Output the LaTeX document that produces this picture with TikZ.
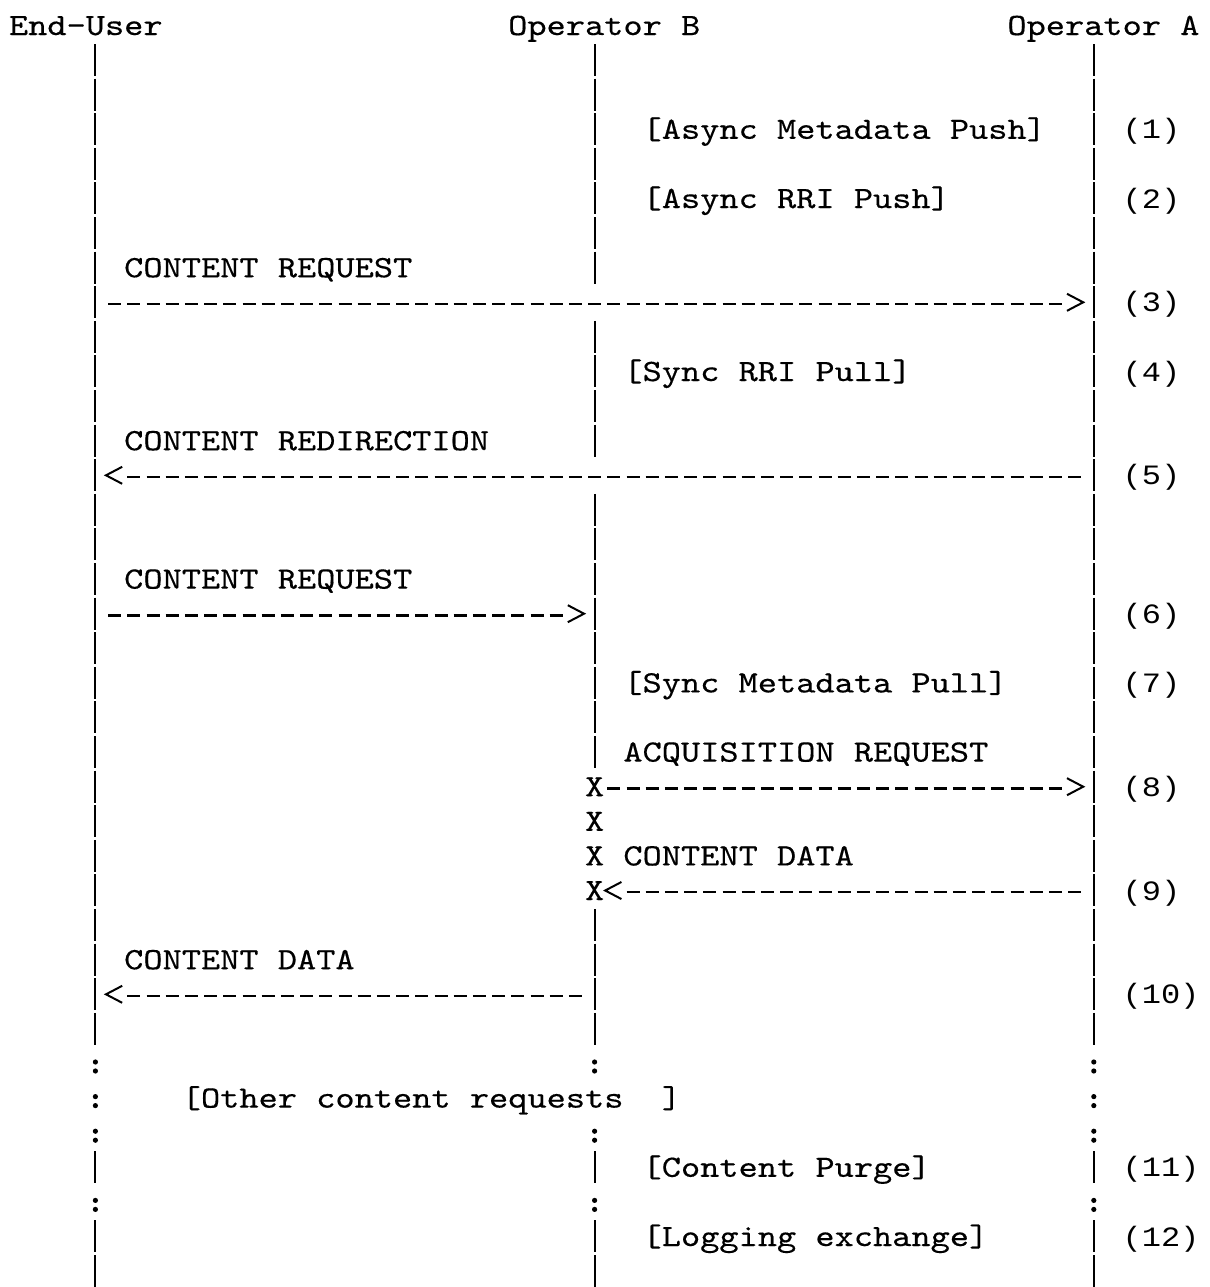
\documentclass[tikz,border=0pt]{standalone}
\usepackage{fontspec}
\newfontfamily\courf{lmmono10-regular.otf}[FakeStretch=1.18,FakeBold=0.4]
\newfontfamily\numf{Liberation Mono}[FakeStretch=1.143]
\tikzset{
  vbar/.style={line width=1pt},
  dashseg/.style={line width=1.3pt},
  chev/.style={line width=1pt, line join=miter},
  lbl/.style={anchor=base west, inner sep=0pt, outer sep=0pt, font=\courf\fontsize{15.5}{15.5}\selectfont},
  numlbl/.style={anchor=base west, inner sep=0pt, outer sep=0pt, font=\numf\fontsize{14}{14}\selectfont},
}
% column c left edge: 9+c*19.2 ; row r baseline: 35+r*34.6 (pixel units, y down)
\newcommand\tx[4]{\node[lbl] (#1) at ({9+#2*19.2},{35+#3*34.6}) {#4};}
\newcommand\nx[4]{\node[numlbl] (#1) at ({9+#2*19.2},{35+#3*34.6}) {#4};}
\newcommand\vb[2]{\draw[vbar] ({9+(#1+0.5)*19.2},{35+#2*34.6-25.6}) -- ++(0,32);}
\newcommand\cln[2]{\fill ({9+(#1+0.5)*19.2},{35+#2*34.6-11}) circle (1.3pt);
  \fill ({9+(#1+0.5)*19.2},{35+#2*34.6-2}) circle (1.3pt);}
\newcommand\dashrow[3]{\foreach \c in {#2,...,#3}{\draw[dashseg] ({9+(\c+0.5)*19.2-6.5},{35+#1*34.6-8}) -- ++(13,0);}}
\newcommand\rarr[2]{\draw[chev] ({9+#1*19.2+2},{35+#2*34.6-18}) -- ({9+(#1+1)*19.2-1},{35+#2*34.6-9.5}) -- ({9+#1*19.2+2},{35+#2*34.6-1});}
\newcommand\larr[2]{\draw[chev] ({9+(#1+1)*19.2-2},{35+#2*34.6-18}) -- ({9+#1*19.2+1},{35+#2*34.6-9.5}) -- ({9+(#1+1)*19.2-2},{35+#2*34.6-1});}
\begin{document}
\begin{tikzpicture}[x=0.5pt,y=-0.5pt]
\useasboundingbox (0,0) rectangle (1210,1287);
% titles
\tx{eu}{0}{0}{End-User}
\tx{ob}{26}{0}{Operator B}
\tx{oa}{52}{0}{Operator A}
% lifeline bars
\foreach \r in {1,...,29,33,35,36}{\vb{4}{\r}}
\foreach \r in {30,31,32,34}{\cln{4}{\r}}
\foreach \r in {1,...,7,9,10,11,12,14,15,16,17,18,19,20,21,26,27,28,29,33,35,36}{\vb{30}{\r}}
\foreach \r in {30,32,34}{\cln{30}{\r}}
\foreach \r in {1,...,29,33,35,36}{\vb{56}{\r}}
\foreach \r in {30,31,32,34}{\cln{56}{\r}}
% messages
\tx{m1}{33}{3}{[Async Metadata Push]} \nx{n1}{58}{3}{(1)}
\tx{m2}{33}{5}{[Async RRI Push]} \nx{n2}{58}{5}{(2)}
\tx{m3}{6}{7}{CONTENT REQUEST}
\dashrow{8}{5}{54}\rarr{55}{8} \nx{n3}{58}{8}{(3)}
\tx{m4}{32}{10}{[Sync RRI Pull]} \nx{n4}{58}{10}{(4)}
\tx{m5}{6}{12}{CONTENT REDIRECTION}
\larr{5}{13}\dashrow{13}{6}{55} \nx{n5}{58}{13}{(5)}
\tx{m6}{6}{16}{CONTENT REQUEST}
\dashrow{17}{5}{28}\rarr{29}{17} \nx{n6}{58}{17}{(6)}
\tx{m7}{32}{19}{[Sync Metadata Pull]} \nx{n7}{58}{19}{(7)}
\tx{m8}{32}{21}{ACQUISITION REQUEST}
\tx{x1}{30}{22}{X}\dashrow{22}{31}{54}\rarr{55}{22} \nx{n8}{58}{22}{(8)}
\tx{x2}{30}{23}{X}
\tx{x3}{30}{24}{X}\tx{m9}{32}{24}{CONTENT DATA}
\tx{x4}{30}{25}{X}\larr{31}{25}\dashrow{25}{32}{55} \nx{n9}{58}{25}{(9)}
\tx{m10}{6}{27}{CONTENT DATA}
\larr{5}{28}\dashrow{28}{6}{29} \nx{n10}{58}{28}{(10)}
\tx{o1}{9}{31}{[Other content requests}\tx{o2}{34}{31}{]}
\tx{m11}{33}{33}{[Content Purge]} \nx{n11}{58}{33}{(11)}
\tx{m12}{33}{35}{[Logging exchange]} \nx{n12}{58}{35}{(12)}
\end{tikzpicture}
\end{document}
